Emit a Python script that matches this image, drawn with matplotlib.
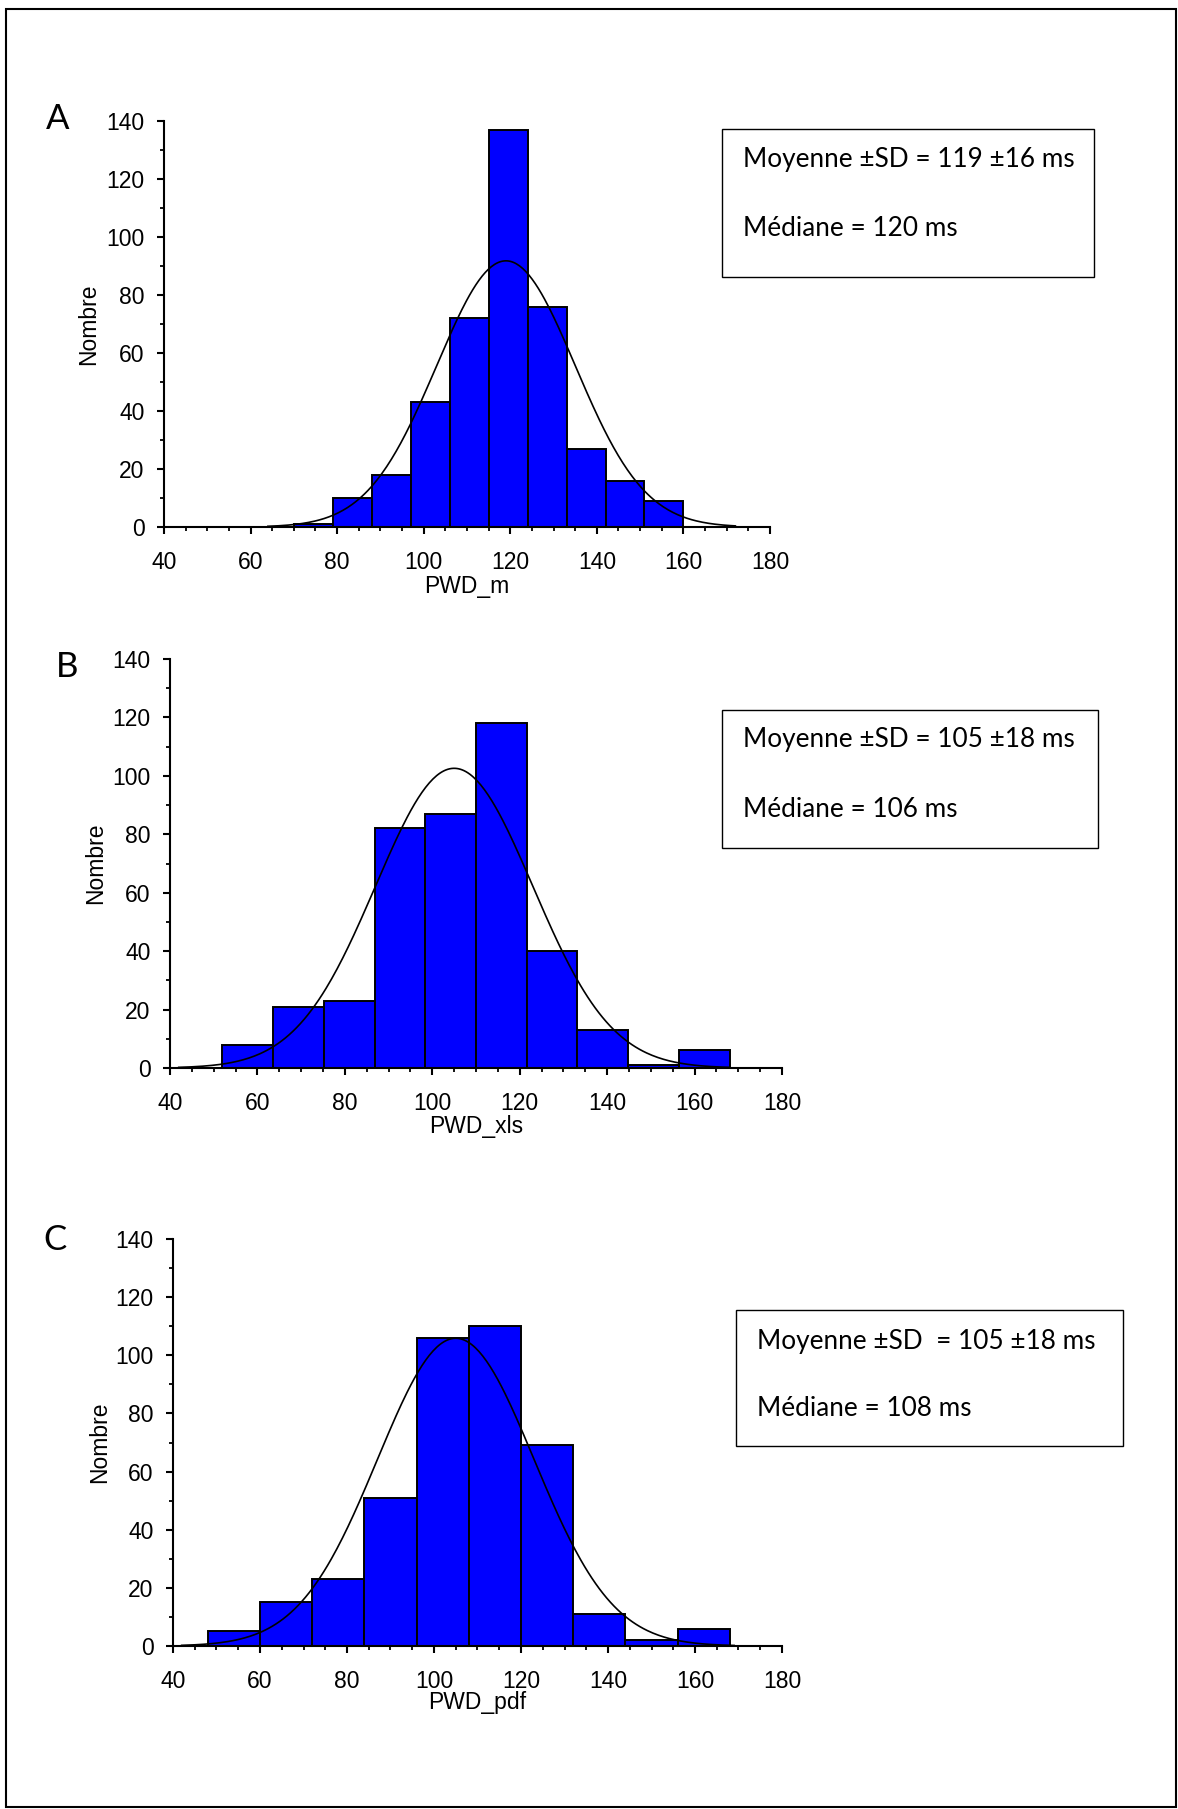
import numpy as np
import matplotlib
matplotlib.use("Agg")
import matplotlib.pyplot as plt
from matplotlib.patches import Rectangle
from matplotlib.ticker import MultipleLocator

# histogram data
edges_m = [70, 79, 88, 97, 106, 115, 124, 133, 142, 151, 160]
counts_m = [1, 10, 18, 43, 72, 137, 76, 27, 16, 9]

edges_xls = [52, 63.6, 75.2, 86.8, 98.4, 110, 121.6, 133.2, 144.8, 156.4, 168]
counts_xls = [8, 21, 23, 82, 87, 118, 40, 13, 1, 6]

edges_pdf = [48, 60, 72, 84, 96, 108, 120, 132, 144, 156, 168]
counts_pdf = [5, 15, 23, 51, 106, 110, 69, 11, 2, 6]

# mean / SD / median per variable (from the boxes)
means = [119, 105, 105]
sds = [16, 18, 18]
medians = [120, 106, 108]
curve_ranges = [(64, 172), (42, 168), (42, 169)]

panel_letters = ["A", "B", "C"]
xlabels = ["PWD_m", "PWD_xls", "PWD_pdf"]
box_lines = [
    ("Moyenne \u00b1SD = 119 \u00b116 ms", "M\u00e9diane = 120 ms"),
    ("Moyenne \u00b1SD = 105 \u00b118 ms", "M\u00e9diane = 106 ms"),
    ("Moyenne \u00b1SD  = 105 \u00b118 ms", "M\u00e9diane = 108 ms"),
]

W, H = 1178, 1809
fig = plt.figure(figsize=(W / 100, H / 100), dpi=100)
fig.patch.set_facecolor("white")

tick_font = ["Liberation Sans Narrow", "Liberation Sans", "DejaVu Sans"]
box_font = ["Lato", "DejaVu Sans"]

# axes boxes in pixels: left, right, top, bottom
ax_px = [(164, 770, 121, 527), (170, 782, 659, 1068), (173, 782, 1239, 1646)]
letter_px = [(58, 119), (67, 667), (55, 1240)]
ylab_px = [89, 96, 100]
xlab_py = [587, 1127, 1702]
# text boxes: left, right, top, bottom, text x, line1 y, line2 y
box_px = [(722, 1094, 129, 277, 743, 160, 228),
          (722, 1098, 710, 848, 743, 740, 809),
          (736, 1123, 1310, 1446, 757, 1341, 1408)]

datasets = [(edges_m, counts_m), (edges_xls, counts_xls), (edges_pdf, counts_pdf)]


def fx(px):
    return px / W


def fy(py):
    return 1 - py / H


for i, (edges, counts) in enumerate(datasets):
    l, r, t, b = ax_px[i]
    ax = fig.add_axes([fx(l), fy(b), (r - l) / W, (b - t) / H])
    edges = np.array(edges)
    widths = np.diff(edges)
    ax.bar(edges[:-1], counts, width=widths, align="edge",
           color="#0000FF", edgecolor="black", linewidth=1.4, zorder=2)

    # fitted normal curve
    binw = widths.mean()
    n = sum(counts)
    xs = np.linspace(curve_ranges[i][0], curve_ranges[i][1], 300)
    ys = n * binw / (sds[i] * np.sqrt(2 * np.pi)) * np.exp(-0.5 * ((xs - means[i]) / sds[i]) ** 2)
    ax.plot(xs, ys, color="black", linewidth=1.2, zorder=3)

    ax.set_xlim(40, 180)
    ax.set_ylim(0, 140)
    ax.spines["top"].set_visible(False)
    ax.spines["right"].set_visible(False)
    for s in ("left", "bottom"):
        ax.spines[s].set_linewidth(1.5)
    ax.xaxis.set_major_locator(MultipleLocator(20))
    ax.xaxis.set_minor_locator(MultipleLocator(5))
    ax.yaxis.set_major_locator(MultipleLocator(20))
    ax.yaxis.set_minor_locator(MultipleLocator(10))
    ax.tick_params(axis="x", which="major", length=5, width=1.5, pad=12.5)
    ax.tick_params(axis="y", which="major", length=5, width=1.5, pad=9)
    ax.tick_params(which="minor", length=3, width=1.3)
    for lab in ax.get_xticklabels() + ax.get_yticklabels():
        lab.set_fontfamily(tick_font)
        lab.set_fontsize(16.5)
    ax.set_facecolor("none")

    fig.text(fx(ylab_px[i]), fy((t + b) / 2), "Nombre", rotation=90,
             ha="center", va="center", family=tick_font, fontsize=16.5)
    fig.text(fx((l + r) / 2), fy(xlab_py[i]), xlabels[i],
             ha="center", va="center", family=tick_font, fontsize=16.5)
    fig.text(fx(letter_px[i][0]), fy(letter_px[i][1]), panel_letters[i],
             ha="center", va="center", family=box_font, fontsize=25)

    bl, br, bt, bb, tx, ty1, ty2 = box_px[i]
    fig.patches.append(Rectangle((fx(bl), fy(bb)), (br - bl) / W, (bb - bt) / H,
                                 transform=fig.transFigure, fill=False,
                                 edgecolor="black", linewidth=1.0))
    fig.text(fx(tx), fy(ty1), box_lines[i][0], ha="left", va="center",
             family=box_font, fontsize=18.8)
    fig.text(fx(tx), fy(ty2), box_lines[i][1], ha="left", va="center",
             family=box_font, fontsize=18.8)

# outer frame
fig.patches.append(Rectangle((fx(6), fy(1807)), (1176 - 6) / W, (1807 - 9) / H,
                             transform=fig.transFigure, fill=False,
                             edgecolor="black", linewidth=1.5))

fig.savefig("out.png", dpi=100)
